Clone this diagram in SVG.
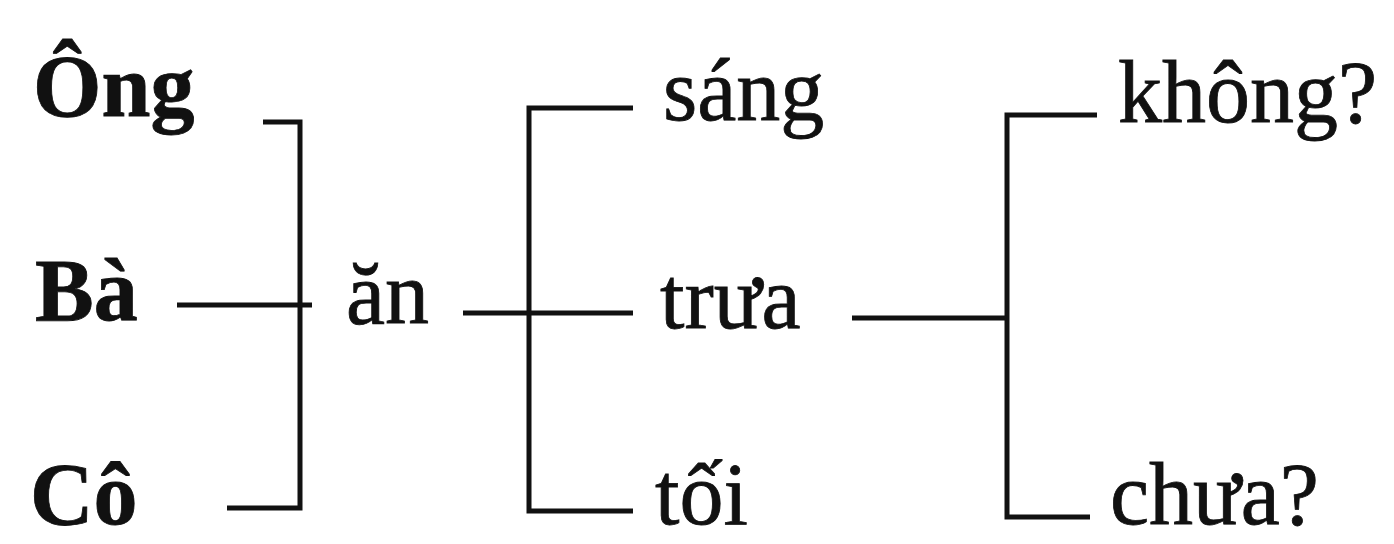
<svg xmlns="http://www.w3.org/2000/svg" width="1394" height="544" viewBox="0 0 1394 544">
  <style>
    .t { font-family: "Liberation Serif", "Times New Roman", serif; font-size: 88px; fill: #111; stroke: #111; stroke-width: 0.8px; }
    .b { font-weight: bold; }
    .c { fill: none; stroke: #111; stroke-width: 5; stroke-linejoin: miter; stroke-linecap: butt; }
  </style>
  <rect width="1394" height="544" fill="#fff"/>
  <g id="connectors">
    <path class="c" d="M263,122 H300 V508 H227"/>
    <path class="c" d="M177,305 H312"/>
    <path class="c" d="M633,108 H529 V511 H633"/>
    <path class="c" d="M463,313 H633"/>
    <path class="c" d="M1097,115 H1007 V517 H1090"/>
    <path class="c" d="M852,318 H1007"/>
  </g>
  <g id="node-ong"><text class="t b" x="33" y="116">Ông</text></g>
  <g id="node-ba"><text class="t b" x="35" y="320">Bà</text></g>
  <g id="node-co"><text class="t b" x="30" y="524">Cô</text></g>
  <g id="node-an"><text class="t" x="346" y="323">ăn</text></g>
  <g id="node-sang"><text class="t" x="663" y="120">sáng</text></g>
  <g id="node-trua"><text class="t" x="660" y="328">trưa</text></g>
  <g id="node-toi"><text class="t" x="655" y="524">tối</text></g>
  <g id="node-khong"><text class="t" x="1118" y="122">không?</text></g>
  <g id="node-chua"><text class="t" x="1110" y="524">chưa?</text></g>
</svg>
